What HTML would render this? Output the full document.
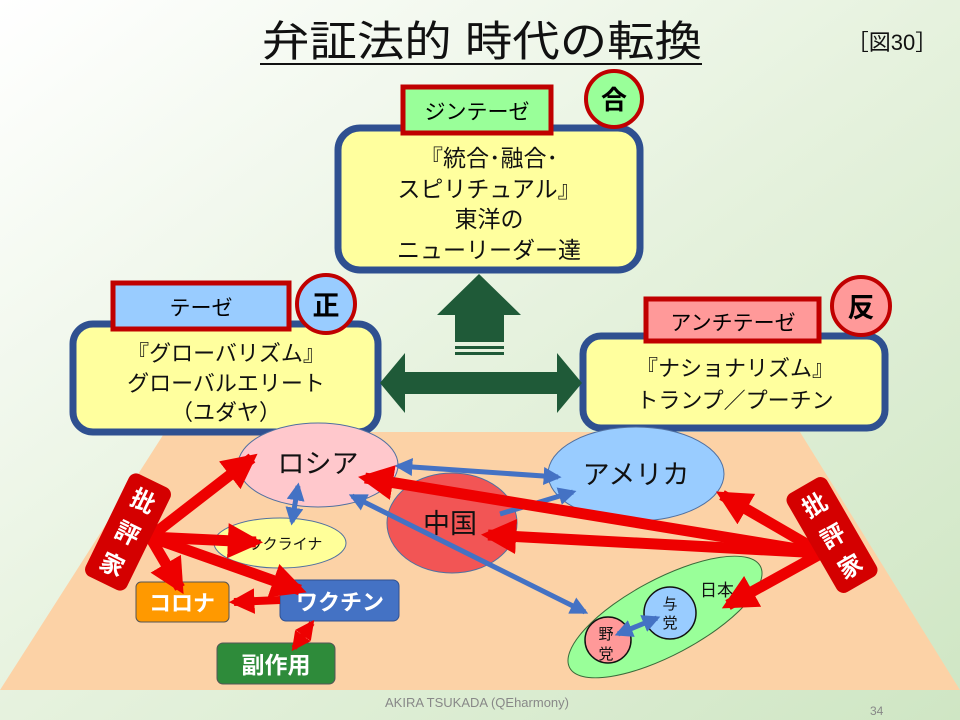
<!DOCTYPE html>
<html><head><meta charset="utf-8"><style>
html,body{margin:0;padding:0;width:960px;height:720px;overflow:hidden}
svg text{font-family:"Liberation Sans","Noto Sans CJK JP",sans-serif}
</style></head><body>
<svg width="960" height="720" viewBox="0 0 960 720" xmlns="http://www.w3.org/2000/svg">
<defs>
<linearGradient id="bg" x1="0" y1="0" x2="1" y2="1">
<stop offset="0" stop-color="#ffffff"/><stop offset="0.5" stop-color="#e6f2de"/><stop offset="1" stop-color="#cfe6c4"/>
</linearGradient>
<marker id="rh" viewBox="0 0 10 10" refX="8" refY="5" markerWidth="3.2" markerHeight="3.2" orient="auto-start-reverse"><path d="M0,0L10,5L0,10z" fill="#ee0000"/></marker>
<marker id="bh" viewBox="0 0 10 10" refX="8" refY="5" markerWidth="3.6" markerHeight="3.6" orient="auto-start-reverse"><path d="M0,0L10,5L0,10z" fill="#4472c4"/></marker>
</defs>
<rect width="960" height="720" fill="url(#bg)"/>
<polygon points="165,432 800,432 960,690 0,690" fill="#fcd2a6"/>

<text x="262" y="56" font-size="42" textLength="440" lengthAdjust="spacingAndGlyphs" fill="#111">弁証法的 時代の転換</text>
<line x1="260" y1="64" x2="702" y2="64" stroke="#111" stroke-width="2"/>
<text x="892" y="50" font-size="22" text-anchor="middle" fill="#111">［図30］</text>

<!-- synthesis -->
<rect x="338" y="128" width="302" height="142" rx="22" fill="#ffff9e" stroke="#2f5090" stroke-width="7"/>
<g font-size="23" text-anchor="middle" fill="#111">
<text x="489" y="166">『統合･融合･</text><text x="489" y="197">スピリチュアル』</text><text x="489" y="227">東洋の</text><text x="489" y="258">ニューリーダー達</text></g>
<rect x="403" y="87" width="148" height="46" fill="#99ff99" stroke="#c00000" stroke-width="5"/>
<text x="477" y="119" font-size="21" text-anchor="middle">ジンテーゼ</text>
<circle cx="614" cy="99" r="28" fill="#99ff99" stroke="#c00000" stroke-width="4"/>
<text x="614" y="109" font-size="26" text-anchor="middle" font-weight="bold">合</text>

<!-- thesis -->
<rect x="73" y="324" width="305" height="108" rx="20" fill="#ffff9e" stroke="#2f5090" stroke-width="7"/>
<g font-size="22" text-anchor="middle" fill="#111">
<text x="226" y="361">『グローバリズム』</text><text x="226" y="391">グローバルエリート</text><text x="226" y="420">（ユダヤ）</text></g>
<rect x="113" y="283" width="176" height="46" fill="#99ccff" stroke="#c00000" stroke-width="5"/>
<text x="201" y="315" font-size="21" text-anchor="middle">テーゼ</text>
<circle cx="326" cy="304" r="29" fill="#99ccff" stroke="#c00000" stroke-width="4"/>
<text x="326" y="315" font-size="27" text-anchor="middle" font-weight="bold">正</text>

<!-- antithesis -->
<rect x="583" y="336" width="302" height="92" rx="18" fill="#ffff9e" stroke="#2f5090" stroke-width="7"/>
<g font-size="22" text-anchor="middle" fill="#111">
<text x="735" y="376">『ナショナリズム』</text><text x="735" y="408">トランプ／プーチン</text></g>
<rect x="646" y="299" width="173" height="42" fill="#ff9999" stroke="#c00000" stroke-width="5"/>
<text x="733" y="330" font-size="21" text-anchor="middle">アンチテーゼ</text>
<circle cx="861" cy="306" r="29" fill="#ff9999" stroke="#c00000" stroke-width="4"/>
<text x="861" y="317" font-size="27" text-anchor="middle" font-weight="bold">反</text>

<!-- green arrows -->
<g fill="#1f5a38">
<polygon points="479,274 521,315 504,315 504,342 455,342 455,315 437,315"/>
<rect x="455" y="346" width="49" height="3"/><rect x="455" y="352" width="49" height="3"/>
<polygon points="380,383 405,353 405,372 557,372 557,353 582,383 557,413 557,394 405,394 405,413"/>
</g>

<!-- countries -->
<ellipse cx="318" cy="465" rx="80" ry="42" fill="#ffc8cc" stroke="#5070a0" stroke-width="1"/>
<ellipse cx="636" cy="474" rx="88" ry="47" fill="#99ccff" stroke="#5070a0" stroke-width="1"/>
<ellipse cx="452" cy="523" rx="65" ry="50" fill="#f25555" stroke="#5070a0" stroke-width="1"/>
<ellipse cx="280" cy="543" rx="66" ry="25" fill="#ffff99" stroke="#5070a0" stroke-width="1"/>
<ellipse cx="665" cy="617" rx="108" ry="38" transform="rotate(-28 665 617)" fill="#99ff99" stroke="#3a6a3a" stroke-width="1"/>
<circle cx="670" cy="613" r="26" fill="#99ccff" stroke="#111" stroke-width="1.5"/>
<circle cx="608" cy="640" r="23" fill="#ff9999" stroke="#111" stroke-width="1.5"/>
<g fill="#111" text-anchor="middle">
<text x="318" y="473" font-size="27">ロシア</text>
<text x="636" y="484" font-size="27">アメリカ</text>
<text x="450" y="533" font-size="27">中国</text>
<text x="285" y="549" font-size="15">ウクライナ</text>
<text x="717" y="596" font-size="17">日本</text>
<text x="670" y="609" font-size="15">与</text><text x="670" y="628" font-size="15">党</text>
<text x="606" y="639" font-size="15">野</text><text x="606" y="659" font-size="15">党</text>
</g>

<!-- boxes -->
<rect x="136" y="582" width="93" height="40" rx="5" fill="#ff9900" stroke="#555" stroke-width="1"/>
<text x="182" y="611" font-size="22" fill="#fff" text-anchor="middle" font-weight="bold">コロナ</text>
<rect x="280" y="580" width="119" height="41" rx="6" fill="#4472c4" stroke="#2f5090" stroke-width="1"/>
<text x="340" y="610" font-size="22" fill="#fff" text-anchor="middle" font-weight="bold">ワクチン</text>
<rect x="217" y="643" width="118" height="41" rx="6" fill="#2e8b3a" stroke="#555" stroke-width="1"/>
<text x="276" y="673" font-size="23" fill="#fff" text-anchor="middle" font-weight="bold">副作用</text>

<!-- blue arrows -->
<g stroke="#4472c4" stroke-width="5" fill="none">
<line x1="398" y1="466" x2="558" y2="477" marker-start="url(#bh)" marker-end="url(#bh)"/>
<line x1="500" y1="514" x2="573" y2="492" marker-end="url(#bh)"/>
<line x1="352" y1="496" x2="585" y2="612" marker-start="url(#bh)" marker-end="url(#bh)"/>
<line x1="298" y1="486" x2="292" y2="522" marker-start="url(#bh)" marker-end="url(#bh)"/>
<line x1="618" y1="634" x2="657" y2="618" marker-start="url(#bh)" marker-end="url(#bh)"/>
</g>

<!-- red arrows -->
<g stroke="#ee0000" stroke-width="11" fill="none">
<line x1="150" y1="537" x2="252" y2="458" marker-end="url(#rh)"/>
<line x1="150" y1="537" x2="256" y2="542" marker-end="url(#rh)"/>
<line x1="150" y1="537" x2="180" y2="588" marker-end="url(#rh)"/>
<line x1="150" y1="537" x2="300" y2="590" marker-end="url(#rh)"/>
<line x1="280" y1="600" x2="234" y2="602" marker-end="url(#rh)" stroke-width="8"/>
<line x1="312" y1="623" x2="294" y2="648" marker-start="url(#rh)" marker-end="url(#rh)" stroke-width="6"/>
<line x1="822" y1="553" x2="365" y2="478" marker-end="url(#rh)"/>
<line x1="822" y1="553" x2="488" y2="535" marker-end="url(#rh)"/>
<line x1="822" y1="553" x2="722" y2="495" marker-end="url(#rh)"/>
<line x1="822" y1="553" x2="728" y2="605" marker-end="url(#rh)"/>
</g>

<!-- critics -->
<g transform="rotate(26 128 532)">
<rect x="105" y="475" width="46" height="114" rx="8" fill="#d40000"/>
<g fill="#fff" font-size="24" font-weight="bold" text-anchor="middle"><text x="128" y="506">批</text><text x="128" y="542">評</text><text x="128" y="577">家</text></g>
</g>
<g transform="rotate(-30 832 535)">
<rect x="809" y="478" width="46" height="114" rx="8" fill="#d40000"/>
<g fill="#fff" font-size="24" font-weight="bold" text-anchor="middle"><text x="832" y="509">批</text><text x="832" y="545">評</text><text x="832" y="580">家</text></g>
</g>

<text x="385" y="707" font-size="13" fill="#888">AKIRA TSUKADA (QEharmony)</text>
<text x="870" y="715" font-size="12" fill="#888">34</text>
</svg>
</body></html>
